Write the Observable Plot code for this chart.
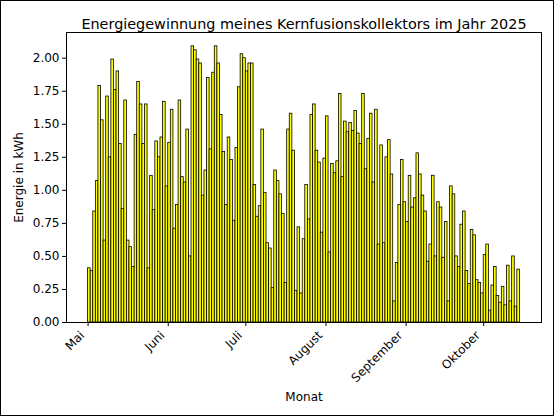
<!DOCTYPE html>
<html>
<head>
<meta charset="utf-8">
<script src="https://cdn.jsdelivr.net/npm/d3@7"></script>
<script src="https://cdn.jsdelivr.net/npm/@observablehq/plot@0.6"></script>
<style>
  body { margin: 0; background: #fff; }
  #chart svg { outline: 1px solid #000; outline-offset: -1px; }
</style>
</head>
<body>
<div id="chart"></div>
<script>
const monthNames = ["Mai", "Juni", "Juli", "August", "September", "Oktober"];

// daily energy in kWh, one array per month
const mai = [0.41, 0.39, 0.84, 1.07, 1.79, 1.53, 0.62, 1.71, 1.25, 1.99, 1.76, 1.90, 1.35, 0.86, 1.68, 0.62,
  0.57, 0.42, 1.42, 1.82, 1.65, 1.35, 1.65, 0.41, 1.11, 0.85, 1.37, 1.25, 1.40, 1.67, 1.03];
const juni = [1.36, 1.61, 0.71, 0.89, 1.68, 1.10, 1.06, 1.46, 0.50, 2.09, 2.06, 1.99, 1.96, 0.96, 1.15,
  1.85, 1.31, 1.89, 2.09, 1.96, 1.57, 1.29, 0.89, 1.40, 1.23, 0.77, 1.32, 1.78, 2.03, 2.00];
const juli = [1.90, 1.96, 1.96, 1.04, 0.80, 0.88, 1.46, 0.98, 0.60, 0.56, 0.26, 1.15, 1.07, 0.97, 0.82, 0.30,
  1.46, 1.58, 1.30, 0.24, 0.72, 0.22, 0.63, 1.04, 0.78, 1.57, 1.65, 1.30, 1.21, 0.68, 1.24];
const august = [1.56, 0.53, 1.20, 1.13, 1.22, 1.73, 1.10, 1.52, 1.44, 1.51, 1.45, 1.60, 1.43, 1.35, 1.73, 1.16,
  1.39, 1.58, 1.06, 1.61, 0.59, 1.34, 0.60, 1.25, 1.38, 1.12, 0.16, 0.45, 0.89, 1.23, 0.91];
const september = [0.76, 1.11, 0.87, 0.94, 1.28, 1.12, 0.96, 0.84, 0.46, 0.59, 1.11, 0.50, 0.91, 0.87, 0.49,
  0.76, 0.16, 1.03, 0.97, 0.50, 0.42, 0.74, 0.84, 0.39, 0.29, 0.70, 0.66, 0.32, 0.30, 0.22];
const oktober = [0.51, 0.59, 0.09, 0.28, 0.42, 0.20, 0.15, 0.27, 0.13, 0.43, 0.16, 0.50, 0.12, 0.40];

const months = [mai, juni, juli, august, september, oktober];
const yTicks = [0, 0.25, 0.5, 0.75, 1.0, 1.25, 1.5, 1.75, 2.0];

const DAY = 24 * 3600 * 1000;
const rows = [];
months.forEach((values, m) => {
  values.forEach((value, d) => {
    const start = new Date(Date.UTC(2025, 4 + m, d + 1));
    rows.push({ start, end: new Date(+start + DAY), value });
  });
});

const monthStarts = monthNames.map((_, m) => new Date(Date.UTC(2025, 4 + m, 1)));

// matplotlib-like 5% margins on both axes
const x0 = rows[0].start, x1 = rows[rows.length - 1].end;
const pad = (x1 - x0) * 0.05;
const yMax = d3.max(rows, d => d.value) * 1.05;

const plot = Plot.plot({
  width: 554,
  height: 416,
  marginTop: 32,
  marginBottom: 94,
  marginLeft: 66,
  marginRight: 13,
  style: { fontFamily: "DejaVu Sans, sans-serif", fontSize: "12px", background: "#fff", color: "#000" },
  x: {
    type: "utc",
    domain: [new Date(+x0 - pad), new Date(+x1 + pad)],
    ticks: monthStarts,
    tickFormat: () => "",
    tickSize: 4,
    label: "Monat",
    labelAnchor: "center",
    labelOffset: 78,
    labelArrow: "none"
  },
  y: {
    domain: [0, yMax],
    ticks: yTicks,
    tickFormat: d3.format(".2f"),
    tickSize: 4,
    tickPadding: 3,
    label: "Energie in kWh",
    labelAnchor: "center",
    labelOffset: 52,
    labelArrow: "none"
  },
  marks: [
    Plot.rectY(rows, {
      x1: "start",
      x2: "end",
      y: "value",
      fill: "#ffff00",
      stroke: "#000",
      strokeWidth: 0.8
    }),
    Plot.frame({ stroke: "#000", strokeWidth: 1 }),
    // rotated month labels, right end hanging under the tick like matplotlib
    Plot.text(monthStarts, {
      x: d => d,
      frameAnchor: "bottom",
      text: d => monthNames[d.getUTCMonth() - 4],
      rotate: -45,
      textAnchor: "end",
      lineAnchor: "top",
      dx: -9,
      dy: 7.5,
      fontSize: 12,
      fill: "#000"
    }),
    Plot.text(["Energiegewinnung meines Kernfusionskollektors im Jahr 2025"], {
      frameAnchor: "top",
      dy: -14,
      fontSize: 14.4,
      fill: "#000"
    })
  ]
});

document.querySelector("#chart").append(plot);
</script>
</body>
</html>
